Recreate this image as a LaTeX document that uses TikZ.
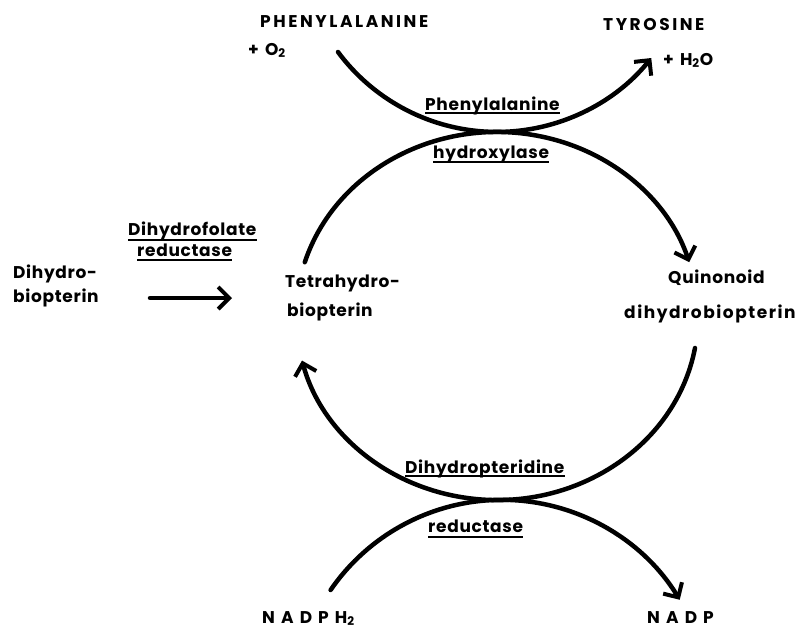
\documentclass[tikz,border=0pt]{standalone}
\usepackage{fontspec}
\setmainfont{Poppins}
\newfontfamily\lab[LetterSpace=4]{Poppins}
\newfontfamily\labcap[LetterSpace=15]{Poppins}
\newfontfamily\labwide[LetterSpace=9]{Poppins}
\newfontfamily\labvwide[LetterSpace=36]{Poppins}
\usetikzlibrary{arrows.meta}
\begin{document}
\begin{tikzpicture}[x=1pt,y=-1pt,
  txt/.style={inner sep=0pt,anchor=base west,font=\lab\bfseries\fontsize{17}{19}\selectfont},
  captxt/.style={txt,font=\labcap\bfseries\fontsize{17}{19}\selectfont},
  widetxt/.style={txt,font=\labwide\bfseries\fontsize{17}{19}\selectfont},
  vwidetxt/.style={txt,font=\labvwide\bfseries\fontsize{17}{19}\selectfont},
  flow/.style={line width=4.5pt,line cap=round,-{Straight Barb[length=11pt,width=22pt,line width=4pt]}},
  ul/.style={line width=1.6pt}]
\useasboundingbox (0,0) rectangle (804,632);
% texts
\node[captxt] (phe) at (260,27) {PHENYLALANINE};
\node[captxt] (o2) at (248,55) {+ O\textsubscript{2}};
\node[captxt] (tyr) at (603,30) {TYROSINE};
\node[captxt] (h2o) at (663,65) {+ H\textsubscript{2}O};
\node[txt] (ph1) at (425,110) {Phenylalanine};
\node[txt] (ph2) at (433,158) {hydroxylase};
\node[txt] (df1) at (128,235) {Dihydrofolate};
\node[txt] (df2) at (137,256) {reductase};
\node[txt] (dh1) at (13,278) {Dihydro-};
\node[txt] (dh2) at (13,302) {biopterin};
\node[txt] (th1) at (285,287) {Tetrahydro-};
\node[txt] (th2) at (287,316) {biopterin};
\node[txt] (q1) at (668,283) {Quinonoid};
\node[widetxt] (q2) at (624,318) {dihydrobiopterin};
\node[txt] (dp1) at (405,473) {Dihydropteridine};
\node[txt] (dp2) at (428,532) {reductase};
\node[vwidetxt] (nadph) at (262,623) {NADPH\textsubscript{2}};
\node[vwidetxt] (nadp) at (647,623) {NADP};
% underlines
\foreach \n/\d in {ph1/3,ph2/4,df1/5,df2/4,dp1/3,dp2/5}
  \draw[ul] ([yshift=-\d pt]\n.base west) -- ([yshift=-\d pt]\n.base east);
% connectors
\coordinate (a1) at (150,298);
\coordinate (a2) at (232,298);
\draw[flow] (a1) -- (a2);
\coordinate (p0) at (338,52);
\draw[flow] (p0) arc[start angle=143.4,end angle=38.8,radius=198];
\coordinate (t0) at (304.8,262.2);
\draw[flow] (t0) arc[start angle=-163,end angle=-17,x radius=201,y radius=184];
\coordinate (q0) at (695,348);
\draw[flow] (q0) arc[start angle=10,end angle=166,x radius=201,y radius=184];
\coordinate (n0) at (330.6,590);
\draw[flow] (n0) arc[start angle=-145.5,end angle=-31.3,radius=208];
\end{tikzpicture}
\end{document}
